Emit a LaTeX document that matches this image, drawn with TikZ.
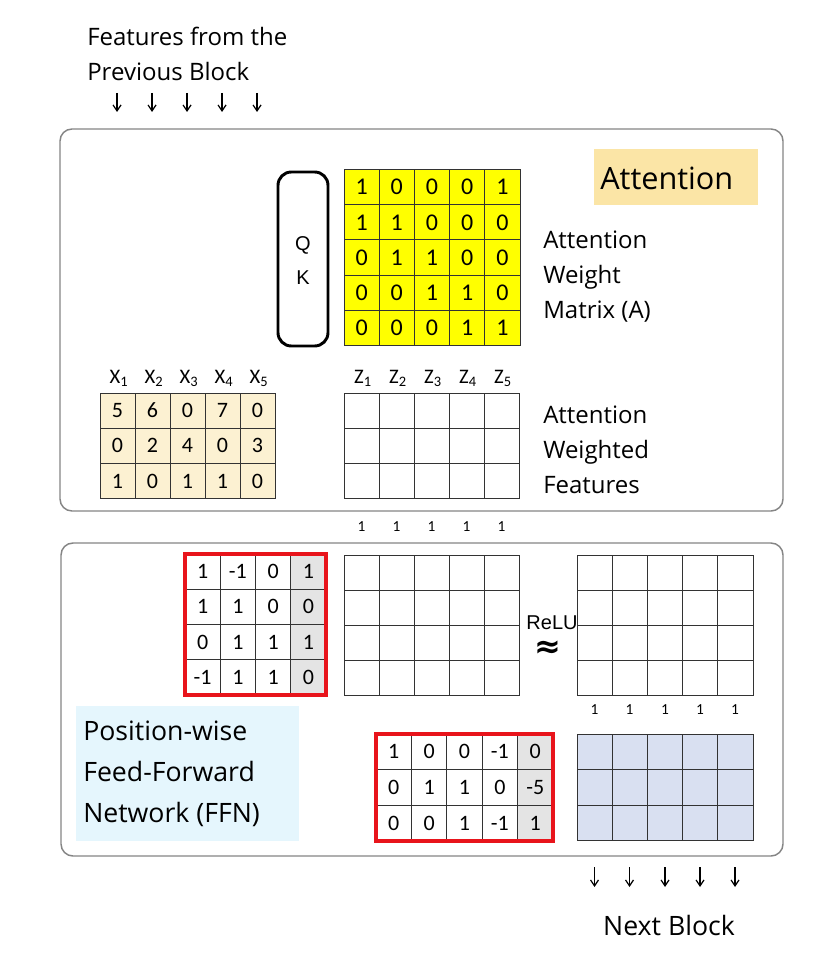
\documentclass[tikz,border=0pt]{standalone}
\usepackage{fontspec}
\setmainfont{Open Sans}
\newfontfamily\numfont{Carlito}
\newfontfamily\arialfont{Liberation Sans}
\newfontfamily\symfont{DejaVu Sans}
\usetikzlibrary{arrows.meta}
\definecolor{matyellow}{HTML}{FFFF00}
\definecolor{xcream}{HTML}{FCF1D2}
\definecolor{attnbox}{HTML}{FBE5A6}
\definecolor{ffnbox}{HTML}{E5F6FD}
\definecolor{outblue}{HTML}{D9E0F1}
\definecolor{colgrey}{HTML}{E4E4E4}
\definecolor{panelgrey}{HTML}{858585}
\definecolor{cellline}{HTML}{333333}
\definecolor{framered}{HTML}{E8141B}
\newcommand\mkmatrix[7]{%
  \foreach \rowvals [count=\r] in {#7} {
    \foreach \v [count=\c] in \rowvals {
      \node[cell, fill=#6, minimum width=#4*0.75pt, minimum height=#5*0.75pt]
        (#1-\r-\c) at ({#2+#4*(\c-0.5)},{#3+#5*(\r-0.5)}) {\v};
    }
  }%
}
\newcommand\mkgrid[8]{%
  \foreach \r in {1,...,#8} {
    \foreach \c in {1,...,#7} {
      \node[cell, fill=#6, minimum width=#4*0.75pt, minimum height=#5*0.75pt]
        (#1-\r-\c) at ({#2+#4*(\c-0.5)},{#3+#5*(\r-0.5)}) {};
    }
  }%
}
\begin{document}
\begin{tikzpicture}[x=0.75pt,y=-0.75pt,
  cell/.style={draw=cellline, line width=0.75pt, inner sep=0pt, outer sep=0pt,
    font=\numfont\fontsize{16.5}{16.5}\selectfont},
  panel/.style={draw=panelgrey, line width=1.1pt, rounded corners=9pt},
  label/.style={font=\fontsize{18}{26.25}\selectfont, align=left, anchor=west, inner sep=0pt},
  sublabel/.style={font=\numfont\fontsize{15.5}{15.5}\selectfont, inner sep=0pt},
  onelabel/.style={font=\numfont\fontsize{11.5}{11.5}\selectfont, inner sep=0pt},
  redframe/.style={draw=framered, line width=2.4pt},
  arr/.style={line width=0.9pt, -{Straight Barb[length=4.5pt,width=6pt]}},
]
\useasboundingbox (0,0) rectangle (829,955);
\fill[white] (0,0) rectangle (829,955);

% panels
\draw[panel] (60,129) rectangle (783,511);
\draw[panel] (61,543) rectangle (783,856);

% header text
\node[label] (hdr) at (87,54) {Features from the\\Previous Block};
\foreach \i/\x in {1/117,2/152,3/187,4/222,5/257} {
  \coordinate (ina\i) at (\x,93);
  \coordinate (inb\i) at (\x,112);
  \draw[arr] (ina\i) -- (inb\i);
}

% Attention title box
\node[fill=attnbox, minimum width=164*0.75pt, minimum height=56*0.75pt, inner sep=0pt] (attnbg) at (676,177) {};
\node[font=\fontsize{23}{23}\selectfont, anchor=west, inner sep=0pt] (attntitle) at (600,178) {Attention};

% QK box
\node[draw=black, line width=2.2pt, rounded corners=10pt, minimum width=50*0.75pt, minimum height=174*0.75pt, inner sep=0pt] (qk) at (303,259) {};
\node[font=\arialfont\fontsize{15}{15}\selectfont, inner sep=0pt] (qlab) at (303,245) {Q};
\node[font=\arialfont\fontsize{15}{15}\selectfont, inner sep=0pt] (klab) at (303,278) {K};

% Attention weight matrix
\begin{scope}[cell/.append style={font=\numfont\fontsize{18}{18}\selectfont}]
\mkmatrix{A}{344}{169.5}{35.2}{35.2}{matyellow}{{1,0,0,0,1},{1,1,0,0,0},{0,1,1,0,0},{0,0,1,1,0},{0,0,0,1,1}}
\end{scope}
\node[label] (awm) at (543,277) {Attention\\Weight\\Matrix (A)};

% X features
\mkmatrix{X}{100}{393}{35}{35.2}{xcream}{{5,6,0,7,0},{0,2,4,0,3},{1,0,1,1,0}}
\foreach \i/\x in {1/119,2/154,3/189,4/224,5/259} {
  \node[sublabel] (xl\i) at (\x,378) {X\textsubscript{\i}};
}
% Z features
\mkgrid{Z}{344}{393}{35.1}{35.2}{white}{5}{3}
\foreach \i/\x in {1/363,2/398,3/433,4/468,5/503} {
  \node[sublabel] (zl\i) at (\x,378) {Z\textsubscript{\i}};
}
\node[label] (awf) at (543,450) {Attention\\Weighted\\Features};
\foreach \i/\x in {1/361.5,2/396.5,3/431.5,4/466.5,5/501.5} {
  \node[onelabel] (oa\i) at (\x,527) {1};
}

% FFN first weight matrix
\fill[colgrey] (290.25,554) rectangle (325.5,695);
\mkmatrix{W}{185}{554}{35.25}{35.25}{none}{{1,-1,0,1},{1,1,0,0},{0,1,1,1},{-1,1,1,0}}
\draw[redframe] (W-1-1.north west) rectangle (W-4-4.south east);

% hidden matrices
\mkgrid{H}{344}{555}{35.1}{35}{white}{5}{4}
\node[font=\arialfont\fontsize{15}{15}\selectfont, inner sep=0pt] (relu) at (552,623) {ReLU};
\node[font=\symfont\bfseries\fontsize{24}{24}\selectfont, inner sep=0pt] (approx) at (548,649) {≈};
\mkgrid{R}{577}{555}{35.2}{35}{white}{5}{4}
\foreach \i/\x in {1/594.5,2/629.5,3/665,4/700,5/735} {
  \node[onelabel] (ob\i) at (\x,710) {1};
}

% FFN label box
\node[fill=ffnbox, minimum width=223*0.75pt, minimum height=135*0.75pt, inner sep=0pt] (ffnbg) at (187.5,773.5) {};
\node[label, font=\fontsize{20}{30.75}\selectfont] (ffn) at (83,774) {Position-wise\\Feed-Forward\\Network (FFN)};

% second weight matrix
\fill[colgrey] (517.6,734) rectangle (553,841);
\mkmatrix{V}{376}{734}{35.4}{35.67}{none}{{1,0,0,-1,0},{0,1,1,0,-5},{0,0,1,-1,1}}
\draw[redframe] (V-1-1.north west) rectangle (V-3-5.south east);

% output matrix
\mkgrid{O}{577}{734}{35.2}{35.5}{outblue}{5}{3}

% output arrows
\foreach \i/\x in {1/594.5,2/629.5,3/665,4/700,5/735} {
  \coordinate (outa\i) at (\x,867);
  \coordinate (outb\i) at (\x,887);
  \draw[arr] (outa\i) -- (outb\i);
}
\node[font=\fontsize{20}{20}\selectfont, inner sep=0pt] (next) at (669,925) {Next Block};
\end{tikzpicture}
\end{document}
